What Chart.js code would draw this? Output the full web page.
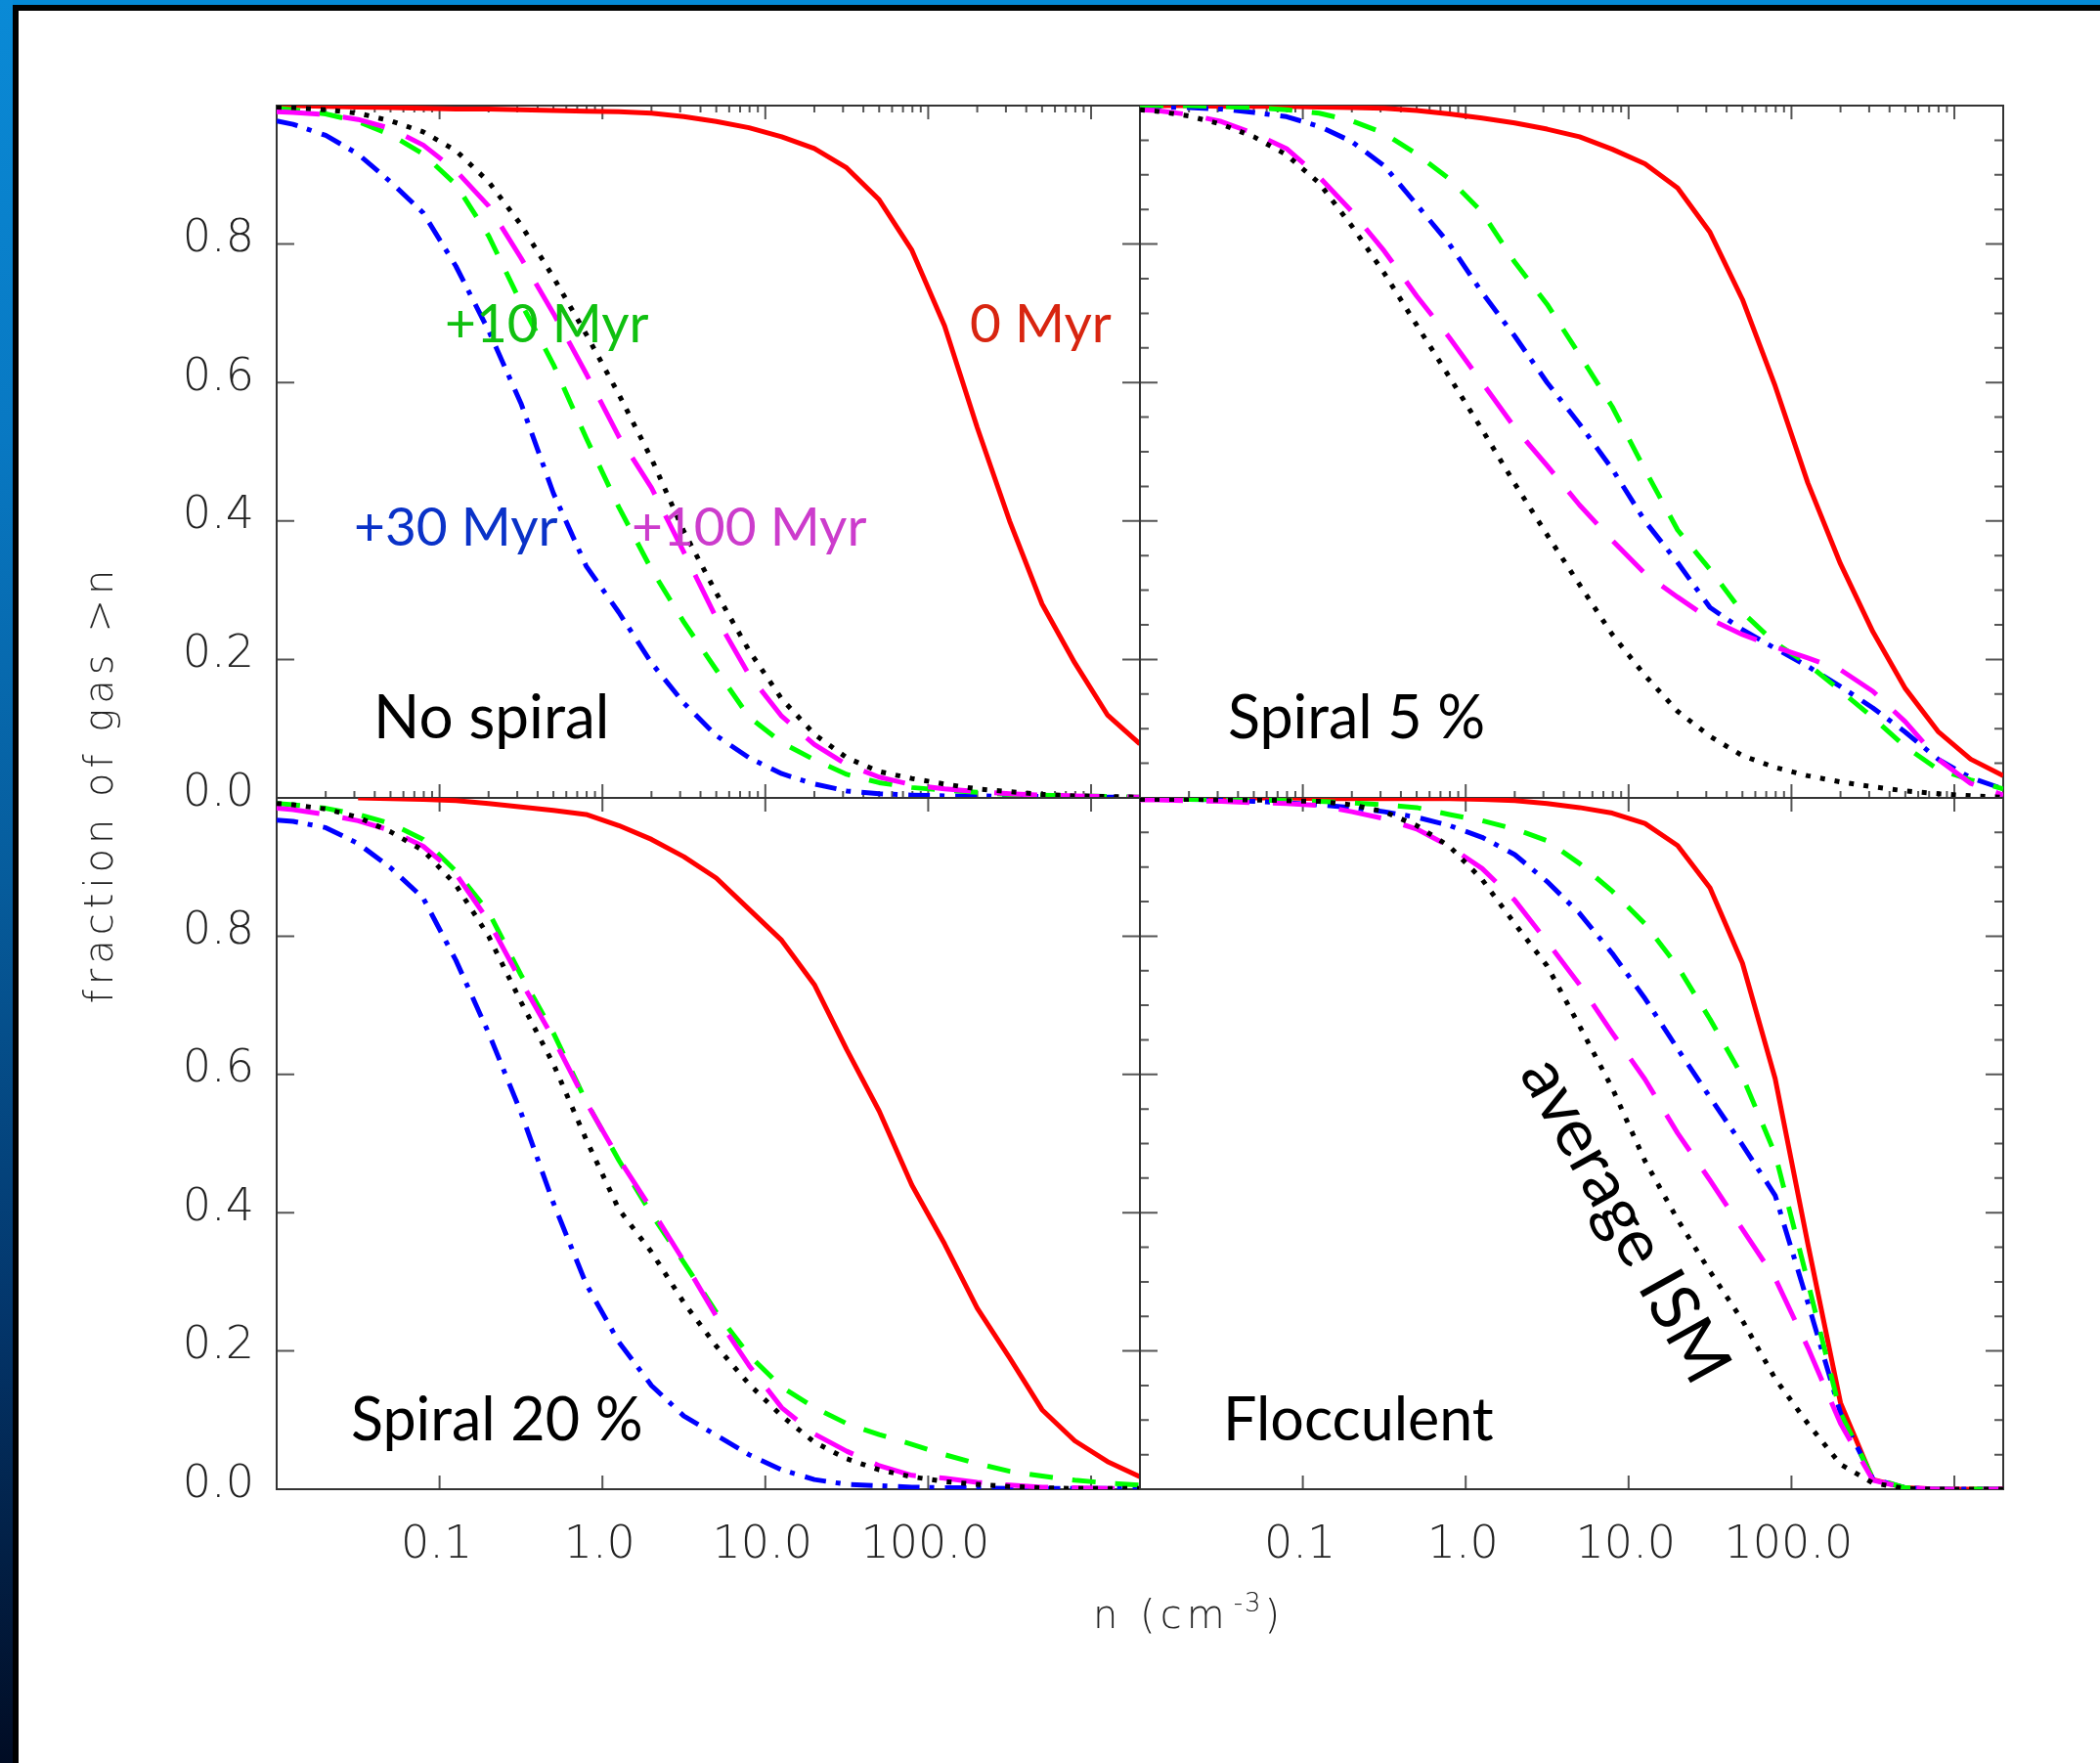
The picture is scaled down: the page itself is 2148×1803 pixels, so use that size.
<!DOCTYPE html>
<html>
<head>
<meta charset="utf-8">
<title>fraction of gas above n</title>
<script src="https://cdn.jsdelivr.net/npm/chart.js@4.4.1/dist/chart.umd.min.js"></script>
<style>
  html, body { margin: 0; padding: 0; background: #fff; }
  #page { position: relative; width: 2148px; height: 1803px; overflow: hidden; background: #fff; }
  #page canvas { position: absolute; left: 0; top: 0; }
  #edgeTop { position: absolute; left: 0; top: 0; width: 2148px; height: 5px; background: #0489d6; }
  #lineTop { position: absolute; left: 13px; top: 5px; width: 2135px; height: 6px; background: #000; }
  #edgeLeft { position: absolute; left: 0; top: 0; width: 13px; height: 1803px;
    background: linear-gradient(to bottom, #0a8ad6 0%, #0878c2 25%, #065c9c 50%, #03356a 75%, #010c24 100%); }
  #lineLeft { position: absolute; left: 13px; top: 5px; width: 6px; height: 1798px; background: #000; }
</style>
</head>
<body>
<div id="page">
  <div id="edgeTop"></div>
  <div id="edgeLeft"></div>
  <div id="lineTop"></div>
  <div id="lineLeft"></div>
  <canvas id="noSpiral" width="2148" height="1803"></canvas>
  <canvas id="spiral5" width="2148" height="1803"></canvas>
  <canvas id="spiral20" width="2148" height="1803"></canvas>
  <canvas id="flocculent" width="2148" height="1803"></canvas>
</div>
<script>
// density bins (cm^-3), shared by every panel
const density = [0.01, 0.0126, 0.02, 0.0316, 0.05, 0.0794, 0.126, 0.2, 0.316, 0.5, 0.794,
  1.26, 2, 3.16, 5, 7.94, 12.6, 20, 31.6, 50, 79.4, 126, 200, 316, 500, 794, 1259, 1995];

// fraction of gas above n -- no spiral
const noSpiralIsm = [0.998, 0.997, 0.994, 0.989, 0.978, 0.962, 0.935, 0.89, 0.828, 0.752, 0.67, 0.583, 0.49, 0.385,
  0.296, 0.213, 0.143, 0.092, 0.058, 0.038, 0.028, 0.02, 0.013, 0.009, 0.005, 0.003, 0.002, 0.001];
const noSpiral0 = [1.0, 1.0, 0.999, 0.998, 0.997, 0.996, 0.995, 0.995, 0.994, 0.993, 0.992, 0.991, 0.989, 0.984,
  0.977, 0.968, 0.955, 0.938, 0.910, 0.864, 0.791, 0.682, 0.535, 0.400, 0.280, 0.195, 0.120, 0.078];
const noSpiral10 = [0.996, 0.994, 0.988, 0.977, 0.958, 0.93, 0.886, 0.812, 0.715, 0.626, 0.52, 0.42, 0.33, 0.254,
  0.185, 0.117, 0.08, 0.055, 0.034, 0.022, 0.015, 0.011, 0.008, 0.005, 0.004, 0.003, 0.002, 0.001];
const noSpiral30 = [0.978, 0.973, 0.957, 0.93, 0.89, 0.845, 0.768, 0.675, 0.57, 0.44, 0.335, 0.268, 0.195, 0.137,
  0.09, 0.058, 0.035, 0.02, 0.01, 0.006, 0.004, 0.003, 0.003, 0.002, 0.002, 0.001, 0.001, 0.001];
const noSpiral100 = [0.991, 0.99, 0.987, 0.98, 0.967, 0.943, 0.906, 0.855, 0.78, 0.70, 0.613, 0.522, 0.448, 0.355,
  0.26, 0.178, 0.118, 0.077, 0.048, 0.03, 0.019, 0.013, 0.009, 0.006, 0.004, 0.003, 0.002, 0.001];

// spiral 5 %
const spiral5Ism = [0.994, 0.992, 0.985, 0.973, 0.955, 0.929, 0.888, 0.826, 0.758, 0.683, 0.608, 0.532, 0.454, 0.38,
  0.308, 0.236, 0.177, 0.125, 0.089, 0.061, 0.044, 0.032, 0.023, 0.016, 0.01, 0.006, 0.003, 0.001];
const spiral5_0 = [1.0, 1.0, 1.0, 0.999, 0.999, 0.999, 0.998, 0.997, 0.996, 0.993, 0.988, 0.982, 0.975, 0.966,
  0.955, 0.937, 0.916, 0.881, 0.817, 0.72, 0.595, 0.455, 0.338, 0.24, 0.158, 0.096, 0.056, 0.032];
const spiral5_10 = [1.0, 1.0, 1.0, 0.999, 0.997, 0.994, 0.989, 0.978, 0.96, 0.93, 0.894, 0.846, 0.774, 0.713,
  0.64, 0.565, 0.474, 0.387, 0.33, 0.268, 0.224, 0.193, 0.155, 0.116, 0.074, 0.041, 0.026, 0.013];
const spiral5_30 = [0.999, 0.998, 0.997, 0.995, 0.99, 0.984, 0.97, 0.948, 0.913, 0.857, 0.80, 0.73, 0.667, 0.60,
  0.54, 0.475, 0.40, 0.34, 0.275, 0.243, 0.216, 0.19, 0.161, 0.13, 0.095, 0.056, 0.029, 0.013];
const spiral5_100 = [0.994, 0.993, 0.987, 0.977, 0.96, 0.938, 0.897, 0.847, 0.79, 0.725, 0.665, 0.60, 0.535, 0.48,
  0.423, 0.372, 0.324, 0.29, 0.258, 0.236, 0.218, 0.202, 0.185, 0.154, 0.11, 0.056, 0.021, 0.004];

// spiral 20 %
const spiral20Ism = [0.992, 0.99, 0.984, 0.972, 0.951, 0.924, 0.874, 0.80, 0.705, 0.615, 0.506, 0.405, 0.343, 0.27,
  0.207, 0.152, 0.106, 0.068, 0.044, 0.028, 0.018, 0.011, 0.007, 0.004, 0.002, 0.001, 0.001, 0.001];
const spiral20_0 = [null, null, null, 1.0, 0.999, 0.998, 0.996, 0.992, 0.987, 0.982, 0.976, 0.96, 0.94, 0.915,
  0.884, 0.839, 0.794, 0.73, 0.636, 0.547, 0.44, 0.355, 0.262, 0.19, 0.115, 0.07, 0.04, 0.018];
const spiral20_10 = [0.992, 0.99, 0.985, 0.976, 0.963, 0.94, 0.894, 0.835, 0.744, 0.66, 0.561, 0.476, 0.398, 0.328,
  0.256, 0.194, 0.148, 0.118, 0.095, 0.079, 0.065, 0.05, 0.037, 0.026, 0.019, 0.013, 0.009, 0.006];
const spiral20_30 = [0.968, 0.966, 0.957, 0.934, 0.899, 0.855, 0.765, 0.66, 0.545, 0.414, 0.297, 0.213, 0.15, 0.106,
  0.078, 0.05, 0.028, 0.014, 0.007, 0.005, 0.003, 0.002, 0.002, 0.001, 0.001, 0.001, 0.001, 0];
const spiral20_100 = [0.985, 0.983, 0.976, 0.967, 0.953, 0.93, 0.89, 0.822, 0.735, 0.652, 0.56, 0.478, 0.405, 0.33,
  0.25, 0.179, 0.118, 0.08, 0.055, 0.034, 0.02, 0.016, 0.01, 0.006, 0.003, 0.002, 0.001, 0.001];

// flocculent
const floccIsm = [0.998, 0.998, 0.998, 0.997, 0.997, 0.996, 0.995, 0.99, 0.98, 0.96, 0.93, 0.882, 0.818, 0.757,
  0.67, 0.58, 0.475, 0.39, 0.315, 0.244, 0.16, 0.095, 0.036, 0.009, 0.001, 0, 0, 0];
const flocc0 = [1.0, 1.0, 1.0, 1.0, 1.0, 1.0, 0.999, 0.999, 0.999, 0.999, 0.999, 0.998, 0.996, 0.992,
  0.986, 0.978, 0.963, 0.931, 0.87, 0.761, 0.594, 0.355, 0.125, 0.014, 0.002, 0, 0, 0];
const flocc10 = [0.999, 0.999, 0.998, 0.998, 0.997, 0.996, 0.995, 0.993, 0.99, 0.986, 0.976, 0.967, 0.955, 0.938,
  0.905, 0.865, 0.818, 0.756, 0.68, 0.597, 0.485, 0.30, 0.11, 0.016, 0.002, 0, 0, 0];
const flocc30 = [0.999, 0.999, 0.998, 0.997, 0.995, 0.993, 0.99, 0.986, 0.98, 0.972, 0.96, 0.943, 0.918, 0.879,
  0.833, 0.775, 0.71, 0.637, 0.567, 0.498, 0.425, 0.27, 0.11, 0.015, 0.002, 0, 0, 0];
const flocc100 = [0.997, 0.997, 0.996, 0.995, 0.993, 0.992, 0.989, 0.98, 0.97, 0.955, 0.93, 0.898, 0.852, 0.792,
  0.73, 0.66, 0.593, 0.515, 0.447, 0.376, 0.305, 0.205, 0.095, 0.013, 0.002, 0, 0, 0];

// axis ticks
const xTickValues = [0.1, 1, 10, 100];
const xTickLabels = ['0.1', '1.0', '10.0', '100.0'];
const xMajorTicks = [0.1, 1, 10, 100, 1000];
const yTickValues = [0, 0.2, 0.4, 0.6, 0.8];
const yTickLabels = ['0.0', '0.2', '0.4', '0.6', '0.8'];
const yMajorTicks = [0.2, 0.4, 0.6, 0.8];

const W = 2148, H = 1803;
const tickFont = '200 46px "DejaVu Sans"';

// line style per snapshot
const ism = { color: '#000000', dash: [5, 10] };
const myr0 = { color: '#ff0000', dash: [] };
const myr10 = { color: '#00ff00', dash: [24, 20] };
const myr30 = { color: '#0000ff', dash: [22, 10, 5, 11] };
const myr100 = { color: '#ff00ff', dash: [44, 24] };

// frame, inward ticks, tick labels and notes for one panel
const panelDecor = {
  id: 'panelDecor',
  beforeDatasetsDraw(chart, args, o) {
    const { ctx, chartArea: a, scales: { x, y } } = chart;
    ctx.save();
    ctx.lineWidth = 2;
    ctx.strokeStyle = '#555';
    ctx.beginPath();
    xMajorTicks.forEach(v => {
      const px = x.getPixelForValue(v);
      ctx.moveTo(px, a.bottom); ctx.lineTo(px, a.bottom - 14);
      ctx.moveTo(px, a.top); ctx.lineTo(px, a.top + 14);
    });
    if (o.xMinor) {
      [0.01, 0.1, 1, 10, 100, 1000].forEach(d => {
        for (let m = 2; m < 10; m++) {
          const v = d * m;
          if (v >= x.max) continue;
          const px = x.getPixelForValue(v);
          ctx.moveTo(px, a.bottom); ctx.lineTo(px, a.bottom - 7);
          ctx.moveTo(px, a.top); ctx.lineTo(px, a.top + 7);
        }
      });
    }
    yMajorTicks.forEach(v => {
      const py = y.getPixelForValue(v);
      ctx.moveTo(a.left, py); ctx.lineTo(a.left + 18, py);
      ctx.moveTo(a.right, py); ctx.lineTo(a.right - 18, py);
    });
    if (o.yMinor) {
      for (let i = 1; i < 20; i++) {
        if (i % 4 === 0) continue;
        const py = y.getPixelForValue(i * 0.05);
        ctx.moveTo(a.left, py); ctx.lineTo(a.left + 9, py);
        ctx.moveTo(a.right, py); ctx.lineTo(a.right - 9, py);
      }
    }
    ctx.stroke();
    ctx.strokeStyle = '#333';
    ctx.strokeRect(a.left, a.top, a.right - a.left, a.bottom - a.top);
    ctx.restore();
  },
  afterDatasetsDraw(chart, args, o) {
    const { ctx, chartArea: a, scales: { x, y } } = chart;
    ctx.save();
    ctx.fillStyle = '#222';
    ctx.font = tickFont;
    ctx.textBaseline = 'alphabetic';
    if (o.yLabels) {
      ctx.textAlign = 'right';
      yTickValues.forEach((v, i) => ctx.fillText(yTickLabels[i], a.left - 23, y.getPixelForValue(v) + 7.5));
    }
    if (o.xLabels) {
      ctx.textAlign = 'center';
      xTickValues.forEach((v, i) => ctx.fillText(xTickLabels[i], x.getPixelForValue(v) - 3, a.bottom + 70));
    }
    (o.notes || []).forEach(n => {
      ctx.save();
      ctx.fillStyle = n.color;
      ctx.font = n.size + 'px Lato';
      if (n.angle) {
        ctx.translate(n.x, n.y);
        ctx.rotate(n.angle * Math.PI / 180);
        ctx.textAlign = 'center';
        ctx.textBaseline = 'middle';
        ctx.fillText(n.text, 0, 0);
      } else {
        ctx.textAlign = 'left';
        ctx.fillText(n.text, n.x, n.y);
      }
      ctx.restore();
    });
    ctx.restore();
  }
};

// shared axis titles
const pageTitles = {
  id: 'pageTitles',
  afterDraw(chart) {
    const ctx = chart.ctx;
    ctx.save();
    ctx.fillStyle = '#222';
    ctx.font = '200 40px "DejaVu Sans"';
    ctx.letterSpacing = '5px';
    ctx.translate(115, 802);
    ctx.rotate(-Math.PI / 2);
    ctx.textAlign = 'center';
    ctx.fillText('fraction of gas >n', 0, 0);
    ctx.setTransform(1, 0, 0, 1, 0, 0);
    ctx.textAlign = 'left';
    let px = 1118;
    ctx.fillText('n (cm', px, 1665);
    px += ctx.measureText('n (cm').width + 4;
    ctx.font = '200 26px "DejaVu Sans"';
    ctx.letterSpacing = '2px';
    ctx.fillText('-3', px, 1648);
    px += ctx.measureText('-3').width + 2;
    ctx.font = '200 40px "DejaVu Sans"';
    ctx.letterSpacing = '5px';
    ctx.fillText(')', px, 1665);
    ctx.restore();
  }
};

function makePanel(id, area, series, decor, extra) {
  return new Chart(document.getElementById(id), {
    type: 'line',
    data: {
      datasets: series.map(([values, st]) => ({
        data: density.map((n, i) => ({ x: n, y: values[i] })),
        borderColor: st.color,
        borderDash: st.dash,
        borderWidth: 5,
        borderCapStyle: 'butt',
        borderJoinStyle: 'round',
        pointRadius: 0,
        tension: 0,
        fill: false
      }))
    },
    options: {
      responsive: false,
      animation: false,
      events: [],
      layout: { padding: { left: area[0], top: area[1], right: W - area[2], bottom: H - area[3] } },
      scales: {
        x: { type: 'logarithmic', min: 0.01, max: 1995, display: false },
        y: { type: 'linear', min: 0, max: 1, display: false }
      },
      plugins: { legend: { display: false }, tooltip: { enabled: false }, panelDecor: decor }
    },
    plugins: [panelDecor].concat(extra || [])
  });
}

makePanel('noSpiral', [283, 108, 1166, 816],
  [[noSpiralIsm, ism], [noSpiral100, myr100], [noSpiral10, myr10], [noSpiral30, myr30], [noSpiral0, myr0]],
  { xMinor: true, yMinor: false, yLabels: true, xLabels: false, notes: [
    { text: '+10 Myr', color: '#10c010', size: 55, x: 455, y: 350 },
    { text: '0 Myr', color: '#d82510', size: 55, x: 992, y: 350 },
    { text: '+30 Myr', color: '#0a32c8', size: 55, x: 362, y: 558 },
    { text: '+100 Myr', color: '#cc3ccc', size: 55, x: 646, y: 558 },
    { text: 'No spiral', color: '#000', size: 62, x: 382, y: 755 }
  ] });

makePanel('spiral5', [1166, 108, 2049, 816],
  [[spiral5Ism, ism], [spiral5_100, myr100], [spiral5_10, myr10], [spiral5_30, myr30], [spiral5_0, myr0]],
  { xMinor: true, yMinor: true, yLabels: false, xLabels: false, notes: [
    { text: 'Spiral 5 %', color: '#000', size: 61, x: 1256, y: 755 }
  ] });

makePanel('spiral20', [283, 816, 1166, 1523],
  [[spiral20Ism, ism], [spiral20_100, myr100], [spiral20_10, myr10], [spiral20_30, myr30], [spiral20_0, myr0]],
  { xMinor: false, yMinor: false, yLabels: true, xLabels: true, notes: [
    { text: 'Spiral 20 %', color: '#000', size: 61, x: 359, y: 1473 }
  ] });

makePanel('flocculent', [1166, 816, 2049, 1523],
  [[floccIsm, ism], [flocc100, myr100], [flocc10, myr10], [flocc30, myr30], [flocc0, myr0]],
  { xMinor: false, yMinor: true, yLabels: false, xLabels: true, notes: [
    { text: 'Flocculent', color: '#000', size: 61, x: 1251, y: 1473 },
    { text: 'average ISM', color: '#000', size: 68, x: 1662, y: 1248, angle: 61 }
  ] }, [pageTitles]);
</script>
</body>
</html>
